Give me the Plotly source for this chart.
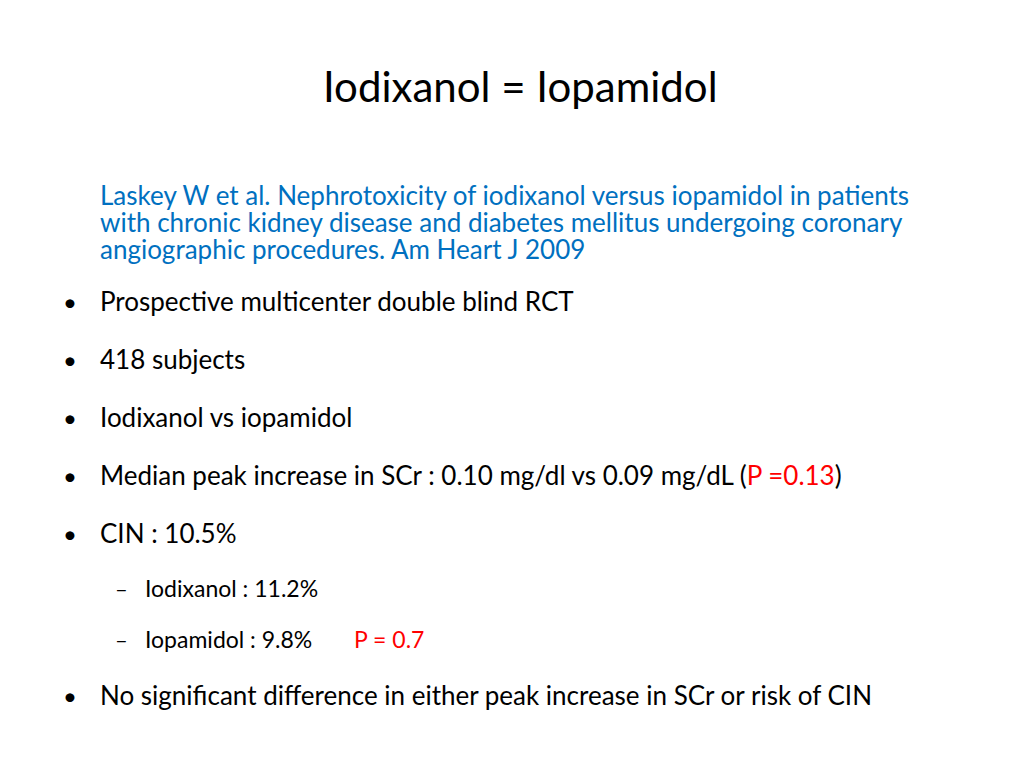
import plotly.graph_objects as go

title = "Iodixanol = Iopamidol"
citation = ["Laskey W et al. Nephrotoxicity of iodixanol versus iopamidol in patients",
            "with chronic kidney disease and diabetes mellitus undergoing coronary",
            "angiographic procedures. Am Heart J 2009"]
bullets = ["Prospective multicenter double blind RCT",
           "418 subjects",
           "Iodixanol vs iopamidol",
           "Median peak increase in SCr : 0.10 mg/dl vs 0.09 mg/dL (<span style='color:#FF0000'>P =0.13</span>)",
           "CIN : 10.5%"]
subs = ["Iodixanol : 11.2%", "Iopamidol : 9.8%"]
sub_note = "P = 0.7"
last_bullet = "No significant difference in either peak increase in SCr or risk of CIN"

W, H = 1024, 768
FONT = "Lato"
DX, DY = -10, -10
fig = go.Figure()
ann = []
def add(text, x, y, size, color="#000000", anchor="left"):
    ann.append(dict(text=text, x=(x + (DX if anchor == "left" else 0)) / W, y=1 - (y + DY) / H,
                    xref="paper", yref="paper",
                    xanchor=anchor, yanchor="middle", showarrow=False,
                    font=dict(family=FONT, size=size, color=color)))

add(title, 512, 88, 42, anchor="center")
for i, t in enumerate(citation):
    add(t, 100, 197 + 27 * i, 26, color="#0070C0")
bys = [303, 361, 419, 477, 535]
for t, y in zip(bullets, bys):
    add("•", 63, y, 24)
    add(t, 100, y, 26)
for t, y in zip(subs, [590, 641]):
    add("–", 115, y, 22)
    add(t, 145, y, 23)
add(sub_note, 354, 641, 23, color="#FF0000")
add("•", 63, 697, 24)
add(last_bullet, 100, 697, 26)

fig.update_layout(width=W, height=H, margin=dict(l=0, r=0, t=0, b=0),
                  paper_bgcolor="white", plot_bgcolor="white", annotations=ann,
                  xaxis=dict(visible=False), yaxis=dict(visible=False))
fig.write_html("out.html")
